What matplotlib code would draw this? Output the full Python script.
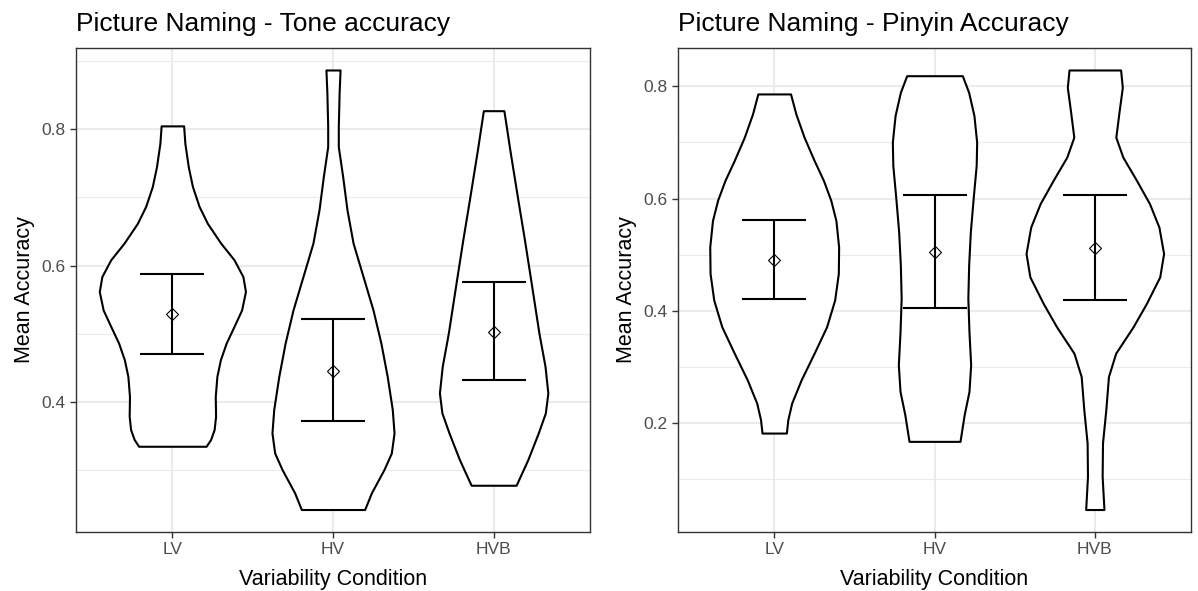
import matplotlib
matplotlib.use("Agg")
import matplotlib.pyplot as plt
import numpy as np

plt.rcParams["font.family"] = ["Liberation Sans", "DejaVu Sans"]

conditions = ["LV", "HV", "HVB"]

# violin outlines: accuracy levels and half-widths (x units) per condition
tone_y = {
    "LV":  [0.335, 0.345, 0.3595, 0.379, 0.408, 0.4375, 0.462, 0.4865, 0.511, 0.535,
            0.562, 0.584, 0.6085, 0.633, 0.662, 0.687, 0.716, 0.745, 0.779, 0.805],
    "HV":  [0.2422, 0.2667, 0.3008, 0.325, 0.3545, 0.389, 0.4375, 0.4865, 0.535,
            0.584, 0.633, 0.682, 0.731, 0.7745, 0.804, 0.853, 0.887],
    "HVB": [0.2778, 0.3155, 0.3546, 0.3839, 0.4132, 0.4522, 0.501, 0.5744, 0.6378,
            0.6964, 0.7697, 0.8273],
}
tone_hw = {
    "LV":  [0.210, 0.238, 0.260, 0.269, 0.267, 0.277, 0.299, 0.335, 0.384, 0.431,
            0.455, 0.439, 0.384, 0.301, 0.218, 0.166, 0.125, 0.099, 0.078, 0.070],
    "HV":  [0.197, 0.239, 0.317, 0.363, 0.380, 0.369, 0.3375, 0.298, 0.249,
            0.187, 0.125, 0.087, 0.060, 0.033, 0.033, 0.038, 0.044],
    "HVB": [0.140, 0.213, 0.278, 0.322, 0.3375, 0.320, 0.282, 0.234, 0.192,
            0.151, 0.101, 0.064],
}
tone_mean = [0.5285, 0.4454, 0.5025]
tone_lo = [0.470, 0.372, 0.432]
tone_hi = [0.588, 0.521, 0.576]

pinyin_y = {
    "LV":  [0.182, 0.2057, 0.2354, 0.2768, 0.3243, 0.3716, 0.419, 0.4665, 0.5138,
            0.5608, 0.597, 0.6324, 0.668, 0.709, 0.751, 0.7865],
    "HV":  [0.1672, 0.2146, 0.256, 0.3035, 0.3627, 0.422, 0.4812, 0.5405, 0.5998,
            0.659, 0.7004, 0.7479, 0.7893, 0.819],
    "HVB": [0.0457, 0.1049, 0.1643, 0.2235, 0.2827, 0.3243, 0.3716, 0.4132, 0.4604,
            0.502, 0.549, 0.591, 0.6324, 0.6738, 0.7093, 0.7568, 0.798, 0.8292],
}
pinyin_hw = {
    "LV":  [0.076, 0.085, 0.109, 0.168, 0.249, 0.327, 0.377, 0.400, 0.402,
            0.385, 0.353, 0.307, 0.249, 0.187, 0.135, 0.102],
    "HV":  [0.159, 0.185, 0.215, 0.2256, 0.215, 0.208, 0.213, 0.2235, 0.241,
            0.260, 0.263, 0.246, 0.213, 0.1736],
    "HVB": [0.057, 0.0457, 0.048, 0.0686, 0.085, 0.130, 0.239, 0.322, 0.405,
            0.429, 0.400, 0.341, 0.260, 0.175, 0.131, 0.152, 0.1715, 0.161],
}
pinyin_mean = [0.491, 0.5045, 0.512]
pinyin_lo = [0.421, 0.405, 0.420]
pinyin_hi = [0.562, 0.6055, 0.606]

tone_ticks = [0.4, 0.6, 0.8]
tone_minor = [0.3, 0.5, 0.7, 0.9]
pinyin_ticks = [0.2, 0.4, 0.6, 0.8]
pinyin_minor = [0.1, 0.3, 0.5, 0.7]

W, H = 1198, 591
fig = plt.figure(figsize=(W / 100, H / 100), dpi=100)
fig.patch.set_facecolor("white")


def panel(rect, title, vy, vhw, means, lo, hi, ticks, minor):
    ax = fig.add_axes(rect)
    ax.set_facecolor("white")
    xs = np.arange(1, len(conditions) + 1)

    allv = np.concatenate([vy[c] for c in conditions])
    span = allv.max() - allv.min()
    ax.set_ylim(allv.min() - 0.05 * span, allv.max() + 0.05 * span)
    ax.set_xlim(0.4, 3.6)

    for t in ticks:
        ax.axhline(t, color="#EBEBEB", lw=1.5, zorder=0)
    for t in minor:
        ax.axhline(t, color="#EBEBEB", lw=0.8, zorder=0)
    for x in xs:
        ax.axvline(x, color="#EBEBEB", lw=1.5, zorder=0)

    for x, c in zip(xs, conditions):
        y = np.array(vy[c])
        hw = np.array(vhw[c])
        ax.fill_betweenx(y, x - hw, x + hw, facecolor="white",
                         edgecolor="black", lw=1.5, zorder=2,
                         joinstyle="round")

    for x, m, l, h in zip(xs, means, lo, hi):
        ax.errorbar([x], [m], yerr=[[m - l], [h - m]], fmt="none",
                    ecolor="black", elinewidth=1.5, capsize=23, capthick=1.5,
                    zorder=3)
        ax.plot([x], [m], marker="D", ms=6, mfc="none", mec="black",
                mew=0.8, zorder=4)

    ax.set_xticks(xs)
    ax.set_xticklabels(conditions)
    ax.set_yticks(ticks)
    ax.set_yticklabels([f"{t:.1f}" for t in ticks])
    ax.tick_params(axis="both", colors="#333333", labelcolor="#4D4D4D",
                   labelsize=12.5, length=4, width=1)
    for s in ax.spines.values():
        s.set_color("#333333")
        s.set_linewidth(1.0)
        s.set_zorder(5)
    ax.set_xlabel("Variability Condition", fontsize=15.5, color="black", labelpad=9)
    ax.set_ylabel("Mean Accuracy", fontsize=15.5, color="black", labelpad=5)
    ax.set_title(title, fontsize=19, loc="left", color="black", pad=12)
    return ax


panel([76 / W, 1 - 531.5 / H, (590 - 76) / W, (531.5 - 48) / H],
      "Picture Naming - Tone accuracy",
      tone_y, tone_hw, tone_mean, tone_lo, tone_hi, tone_ticks, tone_minor)
panel([678 / W, 1 - 531.5 / H, (1191 - 678) / W, (531.5 - 48) / H],
      "Picture Naming - Pinyin Accuracy",
      pinyin_y, pinyin_hw, pinyin_mean, pinyin_lo, pinyin_hi, pinyin_ticks, pinyin_minor)

fig.savefig("out.png", dpi=100, facecolor="white")
